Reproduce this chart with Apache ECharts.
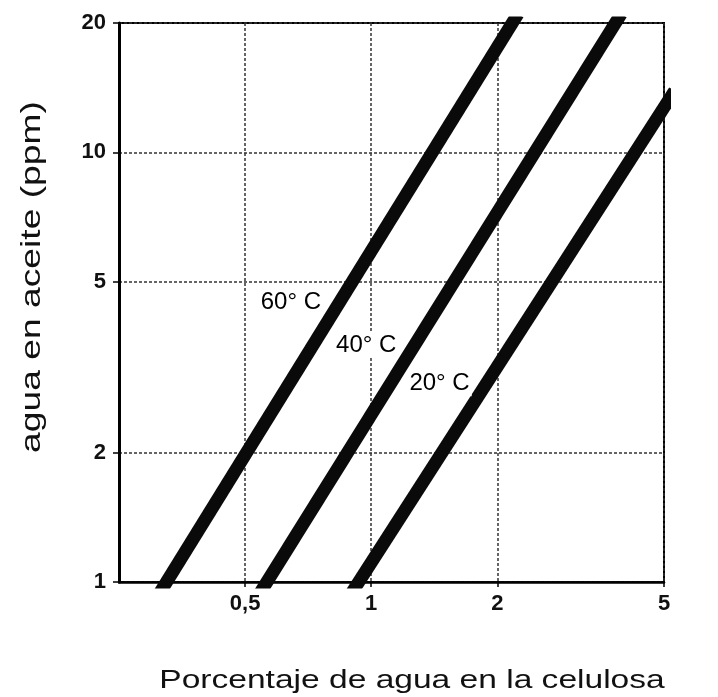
<!DOCTYPE html>
<html><head><meta charset="utf-8">
<script src="https://cdn.jsdelivr.net/npm/echarts@6/dist/echarts.min.js"></script>
<style>html,body{margin:0;padding:0;background:#fff}#c{width:718px;height:697px}</style>
</head><body><div id="c"></div>
<script>
// ---- data (log-log chart) ----
const xRange = [0.25, 5];
const yRange = [1, 20];
const xTickValues = [0.5, 1, 2, 5];
const xTickLabels = ['0,5', '1', '2', '5'];
const yTickValues = [1, 2, 5, 10, 20];
const yTickLabels = ['1', '2', '5', '10', '20'];
const line60 = [[0.31, 0.93], [2.24, 21]];
const line40 = [[0.538, 0.93], [3.95, 21]];
const line20 = [[0.89, 0.93], [5.3, 13.9]];
const curveNames = ['60° C', '40° C', '20° C'];
const curveLabelPos = [[0.643, 4.48], [0.973, 3.56], [1.456, 2.90]];
const xTitle = 'Porcentaje de agua en la celulosa';
const yTitle = 'agua en aceite (ppm)';

const L = Math.log10;
const toLog = pts => pts.map(p => [L(p[0]), L(p[1])]);
const fmt = (vals, labels) => v => {
  const i = vals.findIndex(t => Math.abs(L(t) - v) < 1e-6);
  return i >= 0 ? labels[i] : '';
};
const FONT = '"Liberation Sans", Arial, Helvetica, sans-serif';

const chart = echarts.init(document.getElementById('c'));
const lineSeries = (name, pts) => ({
  name, type: 'line', data: toLog(pts), showSymbol: false, symbol: 'none',
  clip: true, silent: true, z: 3,
  lineStyle: { color: '#0a0a0a', width: 13, cap: 'butt', opacity: 1 }
});
chart.setOption({
  animation: false,
  backgroundColor: '#fff',
  grid: { left: 119, right: 54, top: 23, bottom: 115, show: true, borderColor: '#000', borderWidth: 2, backgroundColor: 'transparent' },
  xAxis: {
    type: 'value', min: L(xRange[0]), max: L(xRange[1]),
    axisLine: { show: true, onZero: false, lineStyle: { color: '#000', width: 2.5 } },
    axisTick: { show: true, customValues: xTickValues.map(L), length: 5, inside: false, lineStyle: { color: '#000', width: 1.5 } },
    axisLabel: { customValues: xTickValues.map(L), formatter: fmt(xTickValues, xTickLabels), margin: 11, fontSize: 22, fontWeight: 'bold', color: '#111', fontFamily: FONT },
    splitLine: { show: true, lineStyle: { color: '#333', width: 1.5, type: [3, 2] } }
  },
  yAxis: {
    type: 'value', min: L(yRange[0]), max: L(yRange[1]),
    axisLine: { show: true, onZero: false, lineStyle: { color: '#000', width: 3 } },
    axisTick: { show: true, customValues: yTickValues.map(L), length: 6, inside: false, lineStyle: { color: '#000', width: 1.5 } },
    axisLabel: { customValues: yTickValues.map(L), formatter: fmt(yTickValues, yTickLabels), margin: 13, fontSize: 22, fontWeight: 'bold', color: '#111', fontFamily: FONT },
    splitLine: { show: true, lineStyle: { color: '#333', width: 1.5, type: [3, 2] } }
  },
  series: [
    lineSeries(curveNames[0], line60),
    lineSeries(curveNames[1], line40),
    lineSeries(curveNames[2], line20),
    {
      type: 'scatter', silent: true, z: 5, symbolSize: 0,
      itemStyle: { opacity: 1 },
      data: curveLabelPos.map((p, i) => ({ value: [L(p[0]), L(p[1])], name: curveNames[i] })),
      label: {
        show: true, position: 'inside', formatter: '{b}', fontSize: 24, color: '#000', opacity: 1, fontFamily: FONT,
        backgroundColor: '#fff', padding: [1, 2]
      }
    }
  ],
  graphic: [
    { type: 'text', x: 412, y: 681, scaleX: 1.29, z: 10,
      style: { text: xTitle, font: '26px ' + FONT, fill: '#111', textAlign: 'center', textVerticalAlign: 'middle' } },
    { type: 'text', x: 32, y: 277, rotation: Math.PI / 2, scaleX: 1.33, z: 10,
      style: { text: yTitle, font: '28px ' + FONT, fill: '#111', textAlign: 'center', textVerticalAlign: 'middle' } }
  ]
});
</script>
</body></html>
